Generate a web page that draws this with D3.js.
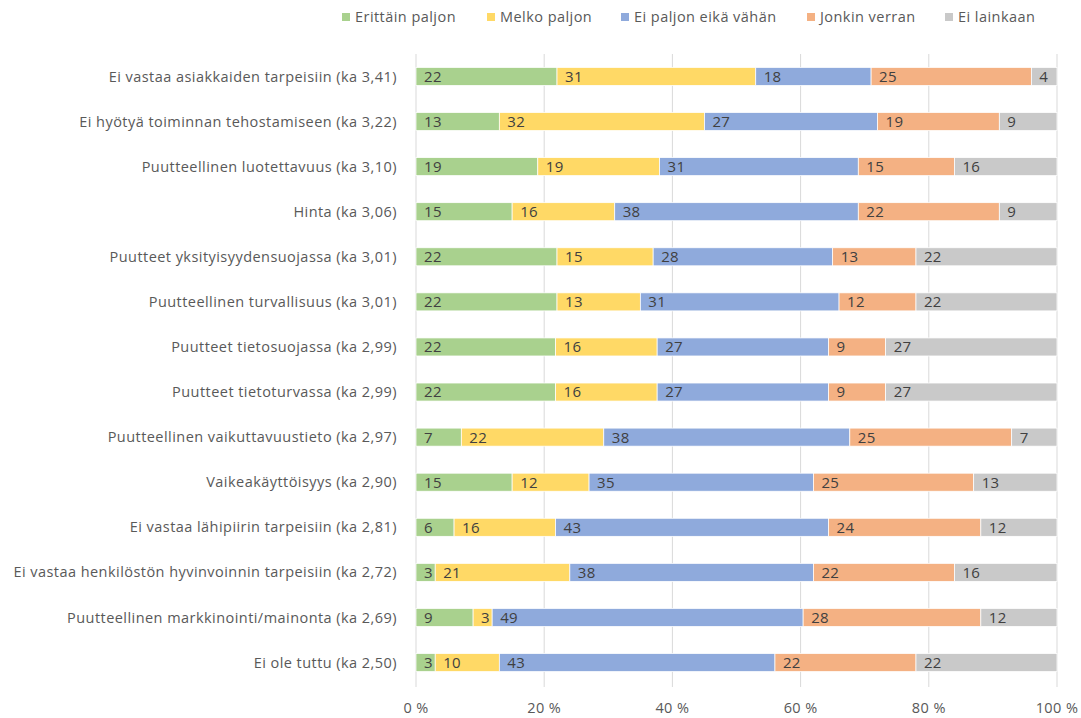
<!DOCTYPE html>
<html>
<head>
<meta charset="utf-8">
<script src="https://cdn.jsdelivr.net/npm/d3@7"></script>
<style>
  body { margin: 0; background: #fff; }
  text { font-family: "Open Sans", sans-serif; }
</style>
</head>
<body>
<div id="chart"></div>
<script>
// categories (top to bottom)
const categories = [
  'Ei vastaa asiakkaiden tarpeisiin (ka 3,41)',
  'Ei hyötyä toiminnan tehostamiseen (ka 3,22)',
  'Puutteellinen luotettavuus (ka 3,10)',
  'Hinta (ka 3,06)',
  'Puutteet yksityisyydensuojassa (ka 3,01)',
  'Puutteellinen turvallisuus (ka 3,01)',
  'Puutteet tietosuojassa (ka 2,99)',
  'Puutteet tietoturvassa (ka 2,99)',
  'Puutteellinen vaikuttavuustieto (ka 2,97)',
  'Vaikeakäyttöisyys (ka 2,90)',
  'Ei vastaa lähipiirin tarpeisiin (ka 2,81)',
  'Ei vastaa henkilöstön hyvinvoinnin tarpeisiin (ka 2,72)',
  'Puutteellinen markkinointi/mainonta (ka 2,69)',
  'Ei ole tuttu (ka 2,50)'
];

const seriesNames = ['Erittäin paljon', 'Melko paljon', 'Ei paljon eikä vähän', 'Jonkin verran', 'Ei lainkaan'];

const erittainPaljon = [22, 13, 19, 15, 22, 22, 22, 22, 7, 15, 6, 3, 9, 3];
const melkoPaljon    = [31, 32, 19, 16, 15, 13, 16, 16, 22, 12, 16, 21, 3, 10];
const eiPaljonEikaVahan = [18, 27, 31, 38, 28, 31, 27, 27, 38, 35, 43, 38, 49, 43];
const jonkinVerran   = [25, 19, 15, 22, 13, 12, 9, 9, 25, 25, 24, 22, 28, 22];
const eiLainkaan     = [4, 9, 16, 9, 22, 22, 27, 27, 7, 13, 12, 16, 12, 22];

const tickValues = [0, 0.2, 0.4, 0.6, 0.8, 1];
const colors = ['#A9D18E', '#FFD966', '#8FAADC', '#F4B183', '#C9C9C9'];

const seriesValues = [erittainPaljon, melkoPaljon, eiPaljonEikaVahan, jonkinVerran, eiLainkaan];

// build rows for d3.stack
const rows = categories.map((c, i) => {
  const r = { category: c };
  seriesNames.forEach((s, j) => { r[s] = seriesValues[j][i]; });
  return r;
});

const width = 1081, height = 718;
const margin = { top: 54, right: 24, bottom: 31, left: 416 };

const svg = d3.select('#chart').append('svg')
  .attr('width', width)
  .attr('height', height);

const x = d3.scaleLinear().domain([0, 1]).range([margin.left, width - margin.right]);
const y = d3.scaleBand().domain(categories)
  .range([53.9, 685.1])
  .paddingInner(0.6)
  .paddingOuter(0.3);

// gridlines
svg.append('g')
  .selectAll('line')
  .data(tickValues)
  .join('line')
  .attr('x1', d => x(d)).attr('x2', d => x(d))
  .attr('y1', margin.top).attr('y2', height - margin.bottom)
  .attr('stroke', '#D9D9D9')
  .attr('stroke-width', 1);

// x axis labels
svg.append('g')
  .selectAll('text')
  .data(tickValues)
  .join('text')
  .attr('x', d => x(d))
  .attr('y', 713)
  .attr('text-anchor', 'middle')
  .attr('fill', '#595959')
  .style('font-size', '14.5px')
  .style('letter-spacing', '0.4px')
  .text(d => Math.round(d * 100) + ' %');

// category labels
svg.append('g')
  .selectAll('text')
  .data(categories)
  .join('text')
  .attr('x', 397)
  .attr('y', d => y(d) + y.bandwidth() / 2)
  .attr('dy', '0.35em')
  .attr('text-anchor', 'end')
  .attr('fill', '#595959')
  .style('font-size', '14.5px')
  .style('letter-spacing', '0.45px')
  .text(d => d);

const stack = d3.stack().keys(seriesNames).offset(d3.stackOffsetExpand);
const stacked = stack(rows);

const layers = svg.append('g')
  .selectAll('g')
  .data(stacked)
  .join('g')
  .attr('fill', (d, i) => colors[i]);

layers.selectAll('rect')
  .data(d => d)
  .join('rect')
  .attr('x', d => x(d[0]))
  .attr('width', d => x(d[1]) - x(d[0]))
  .attr('y', d => y(d.data.category))
  .attr('height', y.bandwidth())
  .attr('stroke', '#fff')
  .attr('stroke-width', 0.75);

// value labels, placed near segment start, pushed right if they would collide
const labelG = svg.append('g');
rows.forEach((r, i) => {
  let prevRight = -Infinity;
  stacked.forEach((layer, j) => {
    const d = layer[i];
    const t = labelG.append('text')
      .attr('y', y(r.category) + y.bandwidth() / 2)
      .attr('dy', '0.36em')
      .attr('fill', '#404040')
      .style('font-size', '15px')
      .style('letter-spacing', '0.3px')
      .text(r[seriesNames[j]]);
    const w = t.node().getComputedTextLength();
    let lx = x(d[0]) + 8;
    if (x(d[1]) - x(d[0]) < w + 8) lx = x(d[1]) - w - 1;
    lx = Math.max(lx, prevRight + 6);
    t.attr('x', lx);
    prevRight = lx + w;
  });
});

// legend
const legendX = [342, 487, 621, 807, 945];
const legend = svg.append('g')
  .selectAll('g')
  .data(seriesNames)
  .join('g')
  .attr('transform', (d, i) => `translate(${legendX[i]},17)`);

legend.append('rect')
  .attr('x', 0).attr('y', -4)
  .attr('width', 8).attr('height', 8)
  .attr('fill', (d, i) => colors[i]);

legend.append('text')
  .attr('x', 13)
  .attr('dy', '0.35em')
  .attr('fill', '#595959')
  .style('font-size', '14.5px')
  .style('letter-spacing', '0.45px')
  .text(d => d);
</script>
</body>
</html>
